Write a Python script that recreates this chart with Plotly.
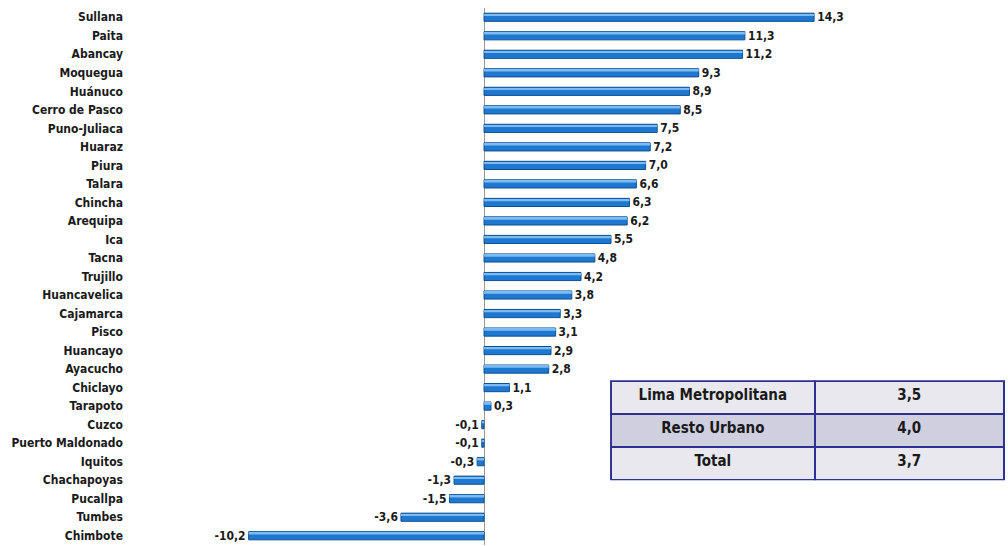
import plotly.graph_objects as go

cities = ["Sullana", "Paita", "Abancay", "Moquegua", "Huánuco", "Cerro de Pasco",
          "Puno-Juliaca", "Huaraz", "Piura", "Talara", "Chincha", "Arequipa", "Ica",
          "Tacna", "Trujillo", "Huancavelica", "Cajamarca", "Pisco", "Huancayo",
          "Ayacucho", "Chiclayo", "Tarapoto", "Cuzco", "Puerto Maldonado", "Iquitos",
          "Chachapoyas", "Pucallpa", "Tumbes", "Chimbote"]
values = [14.3, 11.3, 11.2, 9.3, 8.9, 8.5, 7.5, 7.2, 7.0, 6.6, 6.3, 6.2, 5.5,
          4.8, 4.2, 3.8, 3.3, 3.1, 2.9, 2.8, 1.1, 0.3, -0.1, -0.1, -0.3,
          -1.3, -1.5, -3.6, -10.2]

table_labels = ["Lima Metropolitana", "Resto Urbano", "Total"]
table_values = [3.5, 4.0, 3.7]

def fmt(v):
    return f"{v:.1f}".replace(".", ",")

FONT = "DejaVu Sans Condensed, Roboto Condensed, Liberation Sans Narrow, Roboto, sans-serif"
TXT = "#1a1a1a"

fig = go.Figure()
fig.add_trace(go.Bar(
    x=values, y=cities, orientation="h",
    marker=dict(color="#1f78cf", line=dict(color="#0d4f91", width=1)),
    width=0.44, offset=-0.22,
    text=[fmt(v) for v in values], textposition="outside", constraintext="none",
    textfont=dict(family=FONT, size=12, color=TXT, weight="bold"),
    cliponaxis=False, showlegend=False, hoverinfo="x+y",
))
fig.add_trace(go.Bar(
    x=values, y=cities, orientation="h",
    marker=dict(color="#7dbcf2", line=dict(width=0)),
    width=0.1, offset=-0.17,
    showlegend=False, hoverinfo="skip",
))

fig.add_trace(go.Table(
    domain=dict(x=[0.5435, 1.0], y=[0.119, 0.305]),
    columnwidth=[204, 190],
    header=dict(values=[table_labels[0], fmt(table_values[0])],
                fill_color="#e8e8ee", line=dict(color="#2e3192", width=2),
                align="center", height=33,
                font=dict(family=FONT, size=15, color=TXT, weight="bold")),
    cells=dict(values=[table_labels[1:], [fmt(v) for v in table_values[1:]]],
               fill_color=[["#cfcfe0", "#e8e8ee"]],
               line=dict(color="#2e3192", width=2),
               align="center", height=33,
               font=dict(family=FONT, size=15, color=TXT, weight="bold")),
))

fig.update_layout(
    width=1008, height=546,
    margin=dict(l=142, r=3, t=8, b=1),
    plot_bgcolor="white", paper_bgcolor="white",
    barmode="overlay",
    xaxis=dict(range=[-14.82, 22.57], showgrid=False, showticklabels=False,
               zeroline=True, zerolinecolor="#999999", zerolinewidth=1, ticks=""),
    yaxis=dict(autorange="reversed", showgrid=False, showline=False, ticks="",
               tickfont=dict(family=FONT, size=12, color=TXT, weight="bold"),
               ticklabelstandoff=18),
    font=dict(family=FONT),
)

fig.write_html("out.html", config={"displayModeBar": False},
               post_script="document.body.style.margin='0';")
